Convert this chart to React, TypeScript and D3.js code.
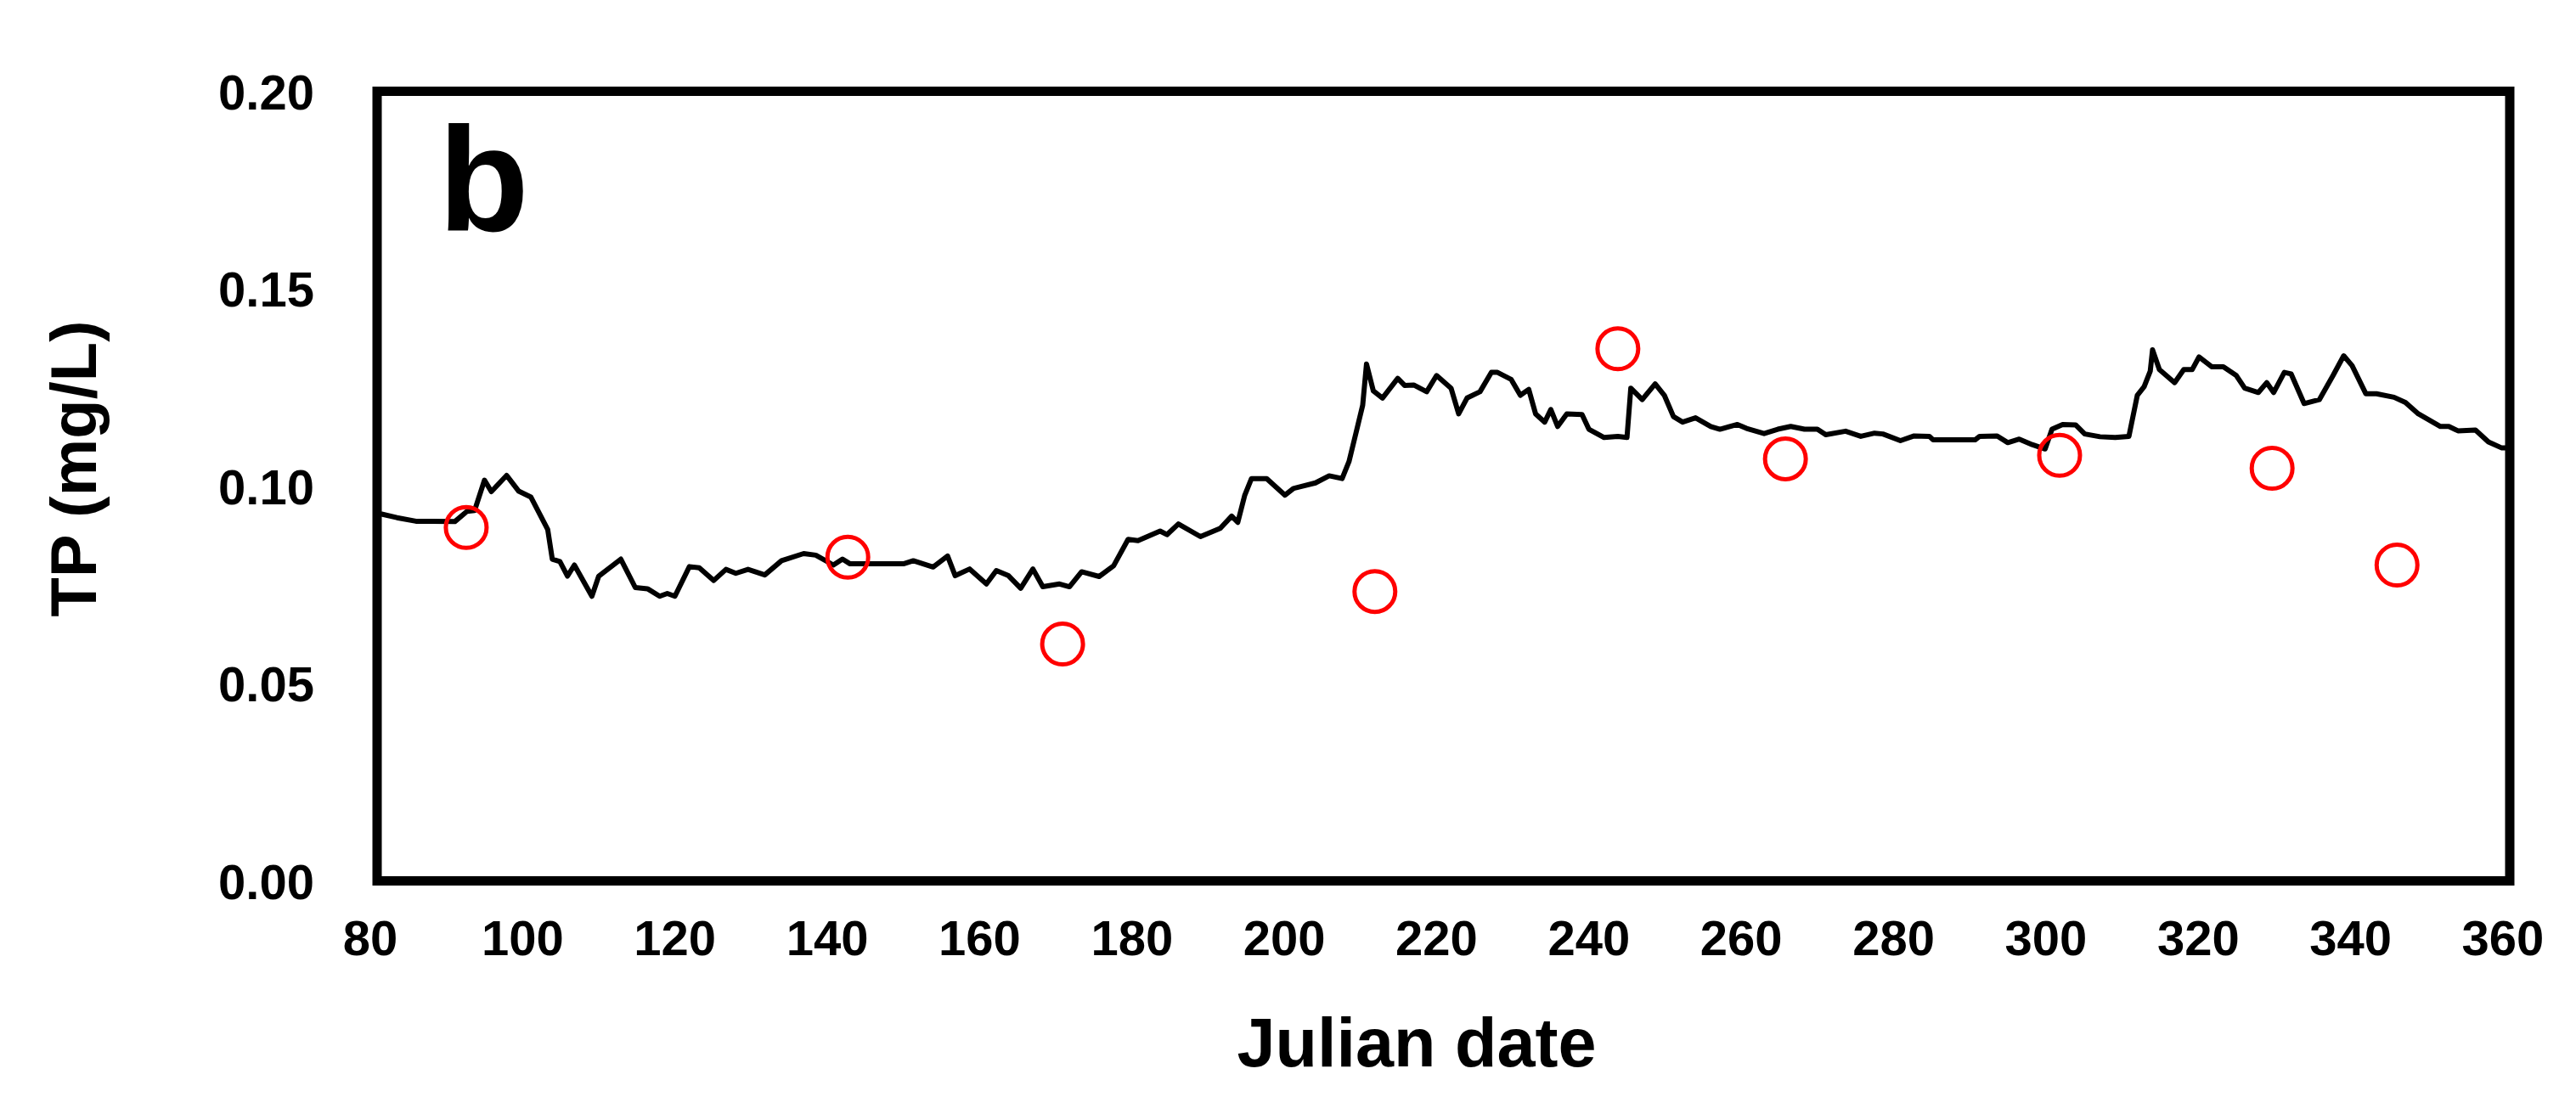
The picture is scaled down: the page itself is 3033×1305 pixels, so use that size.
import React from 'react';
import * as d3 from 'd3';

// Simulated TP series (Julian date, mg/L)
const lineDays = [
  80, 80.6, 82.6, 85.1, 87.0, 90.2, 91.8, 92.8, 94.1, 95.0, 97.0, 98.6, 100.2, 102.4, 103.0, 104.0,
  105.0, 105.9, 108.2, 109.1, 112.0, 113.9, 115.5, 117.1, 118.1, 119.1, 121.0, 122.3, 124.2, 125.8,
  127.1, 128.7, 130.9, 133.1, 136.0, 137.6, 139.9, 141.1, 142.1, 149.1, 150.4, 153.0, 154.9, 155.9,
  157.8, 160.0, 161.3, 162.9, 164.5, 166.1, 167.4, 169.6, 170.9, 172.5, 174.8, 176.7, 178.6,
  179.9, 182.8, 183.7, 185.2, 188.1, 190.7, 192.2, 193.0, 193.9, 194.8, 196.8, 199.2, 200.3, 203.2,
  205.0, 206.7, 207.6, 208.5, 209.4, 209.9, 210.8, 212.0, 214.0, 214.9, 216.1, 217.8, 219.1, 221.0,
  222.0, 223.1, 224.8, 226.3, 227.1, 228.9, 230.1, 231.2, 232.1, 233.3, 234.1, 235.0, 236.2, 238.2,
  239.1, 241.1, 242.9, 244.1, 244.6, 246.1, 247.8, 249.0, 250.2, 251.4, 253.1, 255.1, 256.3, 258.6,
  259.8, 262.1, 263.9, 265.6, 267.4, 269.1, 270.2,
  272.8, 274.8, 276.6, 277.7, 280.0, 281.8, 283.8, 284.3, 289.8, 290.4, 292.7, 294.1, 295.6, 297.3,
  299.0, 299.9, 301.3, 303.0, 304.2, 306.2, 308.2, 310.0, 311.1, 312.0, 312.8, 313.1, 314.0, 316.0,
  317.2, 318.3, 319.2, 320.9, 322.4, 324.1, 325.2, 327.0, 328.1, 329.0, 330.4, 331.3, 333.0, 335.0,
  336.8, 338.2, 339.3, 341.1, 342.5, 344.8, 346.3, 348.0, 350.9, 352.0, 353.2, 355.5, 357.2, 358.9, 360,
];
const lineValues = [
  0.0929, 0.0929, 0.0920, 0.0911, 0.0911, 0.0910, 0.0936, 0.0938, 0.1015, 0.0986, 0.1027, 0.0987, 0.0972, 0.0890, 0.0815, 0.0809,
  0.0772, 0.0800, 0.0721, 0.0772, 0.0815, 0.0743, 0.0740, 0.0721, 0.0728, 0.0721, 0.0796, 0.0793, 0.0761, 0.0789,
  0.0779, 0.0789, 0.0775, 0.0811, 0.0829, 0.0825, 0.0800, 0.0815, 0.0803, 0.0803, 0.0811, 0.0795, 0.0823, 0.0773,
  0.0790, 0.0752, 0.0786, 0.0773, 0.0741, 0.0790, 0.0745, 0.0752, 0.0745, 0.0783, 0.0771, 0.0798, 0.0865,
  0.0862, 0.0886, 0.0877, 0.0904, 0.0872, 0.0893, 0.0924, 0.0908, 0.0976, 0.1019, 0.1019, 0.0977, 0.0994, 0.1008,
  0.1026, 0.1019, 0.1062, 0.1133, 0.1205, 0.1309, 0.1241, 0.1223, 0.1273, 0.1255, 0.1256, 0.1239, 0.1280, 0.1248,
  0.1183, 0.1223, 0.1239, 0.1288, 0.1288, 0.1270, 0.1230, 0.1245, 0.1183, 0.1162, 0.1194, 0.1151, 0.1183, 0.1181,
  0.1144, 0.1123, 0.1126, 0.1123, 0.1248, 0.1219, 0.1259, 0.1230, 0.1176, 0.1162, 0.1173, 0.1151, 0.1144, 0.1156,
  0.1146, 0.1133, 0.1144, 0.1151, 0.1144, 0.1144, 0.1130,
  0.1139, 0.1126, 0.1134, 0.1132, 0.1115, 0.1127, 0.1126, 0.1117, 0.1117, 0.1126, 0.1127, 0.1110, 0.1119, 0.1105,
  0.1094, 0.1144, 0.1156, 0.1155, 0.1132, 0.1125, 0.1123, 0.1126, 0.1230, 0.1252, 0.1291, 0.1345, 0.1295, 0.1262,
  0.1295, 0.1295, 0.1327, 0.1302, 0.1302, 0.1280, 0.1248, 0.1237, 0.1262, 0.1237, 0.1288, 0.1284, 0.1209, 0.1219,
  0.1280, 0.1330, 0.1305, 0.1234, 0.1234, 0.1225, 0.1212, 0.1183, 0.1151, 0.1151, 0.1140, 0.1142, 0.1112, 0.1097, 0.1097,
];

// Observed TP
const obsDays = [91.7, 141.8, 170.0, 211.0, 242.9, 264.9, 300.9, 328.8, 345.2];
const obsValues = [0.0895, 0.082, 0.060, 0.0733, 0.1348, 0.1069, 0.1078, 0.1045, 0.080];

const xTicks = [80, 100, 120, 140, 160, 180, 200, 220, 240, 260, 280, 300, 320, 340, 360];
const yTicks = [0, 0.05, 0.1, 0.15, 0.2];

const W = 3033;
const H = 1305;
const FONT = "'Liberation Sans', Arial, Helvetica, sans-serif";

export default function App() {
  const x = d3.scaleLinear().domain([80, 360]).range([444, 2955]);
  const y = d3.scaleLinear().domain([0, 0.2]).range([1037.5, 107.5]);
  const pts: [number, number][] = lineDays.map((d, i) => [d, lineValues[i]]);
  const line = d3
    .line<[number, number]>()
    .x((d) => x(d[0]))
    .y((d) => y(d[1]));

  return (
    <div style={{ position: 'fixed', left: 0, top: 0 }}>
      <svg width={W} height={H} style={{ display: 'block', background: '#fff' }}>
        <rect x={0} y={0} width={W} height={H} fill="#fff" />
        <defs>
          <clipPath id="plotclip">
            <rect x={x(80)} y={y(0.2)} width={x(360) - x(80)} height={y(0) - y(0.2)} />
          </clipPath>
        </defs>
        <path
          d={line(pts) || ''}
          fill="none"
          stroke="#000"
          strokeWidth={6}
          strokeLinejoin="round"
          clipPath="url(#plotclip)"
        />
        {obsDays.map((d, i) => (
          <ellipse
            key={i}
            cx={x(d)}
            cy={y(obsValues[i])}
            rx={24}
            ry={24}
            fill="none"
            stroke="#ff0000"
            strokeWidth={5}
          />
        ))}
        <rect
          x={x(80)}
          y={y(0.2)}
          width={x(360) - x(80)}
          height={y(0) - y(0.2)}
          fill="none"
          stroke="#000"
          strokeWidth={11}
        />
        <text x={516} y={272} fontFamily={FONT} fontWeight="bold" fontSize={175} fill="#000">
          b
        </text>
        {xTicks.map((t) => (
          <text
            key={t}
            x={x(t) - 8}
            y={1125}
            textAnchor="middle"
            fontFamily={FONT}
            fontWeight="bold"
            fontSize={58}
            fill="#000"
          >
            {t}
          </text>
        ))}
        {yTicks.map((t) => (
          <text
            key={t}
            x={370}
            y={y(t) + 21}
            textAnchor="end"
            fontFamily={FONT}
            fontWeight="bold"
            fontSize={58}
            fill="#000"
          >
            {t.toFixed(2)}
          </text>
        ))}
        <text
          x={1668}
          y={1256}
          textAnchor="middle"
          fontFamily={FONT}
          fontWeight="bold"
          fontSize={81}
          fill="#000"
        >
          Julian date
        </text>
        <text
          transform="translate(113,552) rotate(-90)"
          textAnchor="middle"
          fontFamily={FONT}
          fontWeight="bold"
          fontSize={76}
          fill="#000"
        >
          TP (mg/L)
        </text>
      </svg>
    </div>
  );
}
